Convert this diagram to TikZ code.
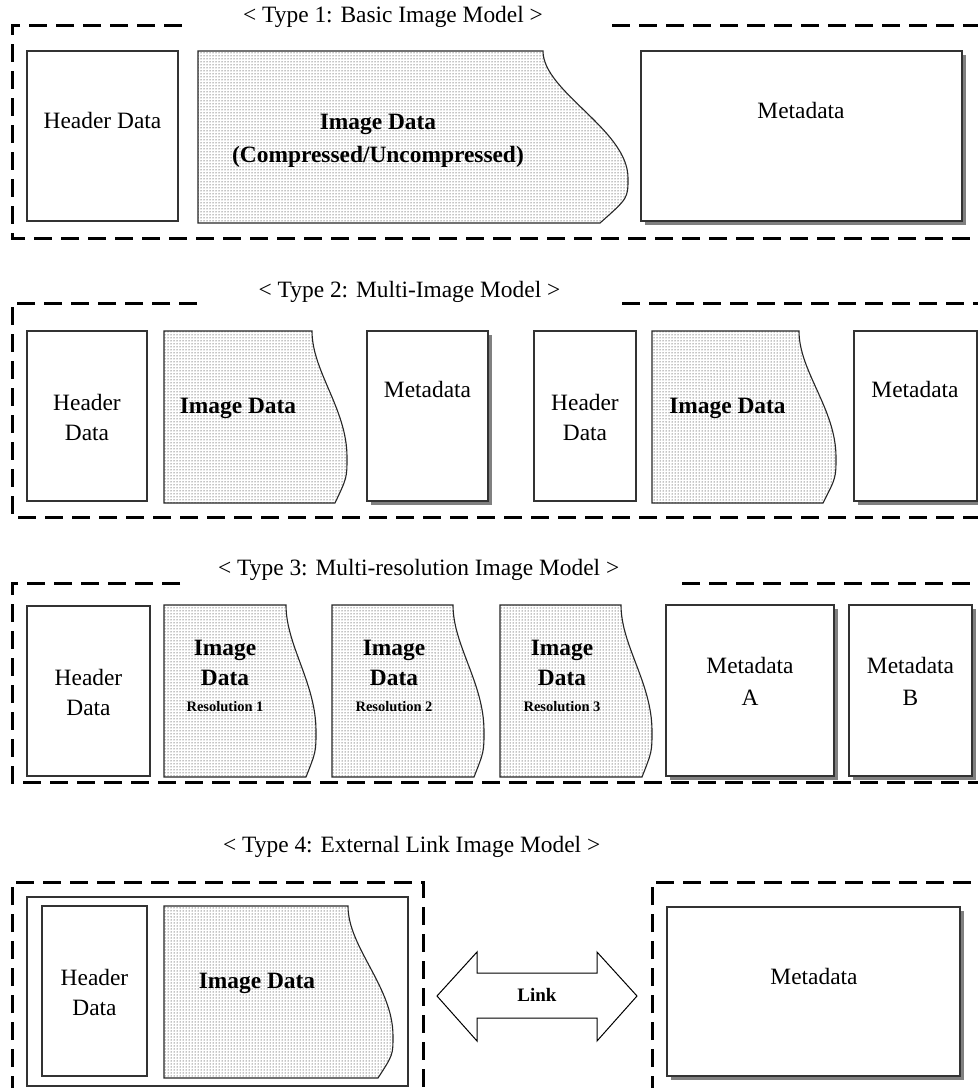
\documentclass[tikz,border=0pt]{standalone}
\usepackage{fontspec}
\setmainfont{Liberation Serif}
\usetikzlibrary{patterns}
\tikzset{
  frame/.style={line width=3pt, dash pattern=on 18pt off 9pt},
  boxline/.style={draw=black!80, line width=1.1pt},
  shadowc/.style={fill=black!50},
  imgline/.style={draw=black!85, line width=1.1pt, pattern=dots, pattern color=black},
  txt/.style={font=\fontsize{23.4}{30}\selectfont, align=center, inner sep=0pt},
  btxt/.style={font=\fontsize{23.4}{30}\selectfont\bfseries, align=center, inner sep=0pt},
  stxt/.style={font=\fontsize{14.5}{17}\selectfont\bfseries, align=center, inner sep=0pt},
  ltxt/.style={font=\fontsize{19}{21}\selectfont\bfseries, align=center, inner sep=0pt},
  arrowshape/.style={draw=black, line width=1pt, fill=white}
}
\newcommand\metabox[4]{%
  \fill[shadowc] (#1+4,#2+4) rectangle (#3+4,#4+4);
  \draw[boxline, fill=white] (#1,#2) rectangle (#3,#4);}
\newcommand\imgdata[7]{% x0,y0,y1,xt,xm,ym,xb
  \draw[imgline] (#1,#2) -- (#4,#2)
    .. controls +(0,{0.32*(#6-#2)}) and +(0,{-0.38*(#6-#2)}) .. (#5,#6)
    .. controls +(0,{0.45*(#3-#6)}) .. (#7,#3) -- (#1,#3) -- cycle;}
\begin{document}
\begin{tikzpicture}[x=1pt,y=-1pt]
\useasboundingbox (0,0) rectangle (978,1088);

% ---------- Type 1 ----------
\draw[frame] (182,25) -- (12,25) -- (12,238) -- (982,238);
\draw[frame] (612,25) -- (982,25);
\node[txt] (t1) at (393,17) {< Type 1: Basic Image Model >};
\draw[boxline] (27,51) rectangle (178,221);
\node[txt] (h1) at (102.5,120) {Header Data};
\imgdata{198}{51}{223}{543}{628}{178}{600}
\node[btxt, font=\fontsize{23.4}{33}\selectfont\bfseries] (i1) at (378,141) {Image Data\\(Compressed/Uncompressed)};
\metabox{641}{51}{962}{221}
\node[txt] (m1) at (801,110) {Metadata};

% ---------- Type 2 ----------
\draw[frame] (197,303) -- (12,303) -- (12,517) -- (982,517);
\draw[frame] (622,303) -- (982,303);
\node[txt] (t2) at (409.5,292) {< Type 2: Multi-Image Model >};
\draw[boxline] (27,331) rectangle (147,501);
\node[txt] (h2a) at (87,417) {Header\\Data};
\imgdata{164}{331}{503}{312}{347}{457}{335}
\node[btxt] (i2a) at (238,408) {Image Data};
\metabox{367}{331}{488}{501}
\node[txt] (m2a) at (427.5,389) {Metadata};
\draw[boxline] (534,331) rectangle (636,501);
\node[txt] (h2b) at (585,417) {Header\\Data};
\imgdata{652}{331}{503}{799}{836}{457}{823}
\node[btxt] (i2b) at (727.5,408) {Image Data};
\metabox{854}{331}{977}{501}
\node[txt] (m2b) at (915,389) {Metadata};

% ---------- Type 3 ----------
\draw[frame] (180,583) -- (12,583) -- (12,782) -- (982,782);
\draw[frame] (682,583) -- (982,583);
\node[txt, anchor=west] (t3) at (218,570) {< Type 3: Multi-resolution Image Model >};
\draw[boxline] (27,606) rectangle (150,776);
\node[txt] (h3) at (88.5,692) {Header\\Data};
\imgdata{164}{605}{777}{286}{316}{731}{306}
\node[btxt] (i3a) at (225,663) {Image\\Data};
\node[stxt] (r3a) at (225,707) {Resolution 1};
\imgdata{332}{605}{777}{453}{484}{731}{474}
\node[btxt] (i3b) at (394,663) {Image\\Data};
\node[stxt] (r3b) at (394,707) {Resolution 2};
\imgdata{500}{605}{777}{621}{652}{731}{642}
\node[btxt] (i3c) at (562,663) {Image\\Data};
\node[stxt] (r3c) at (562,707) {Resolution 3};
\metabox{666}{605}{834}{776}
\node[txt, font=\fontsize{23.4}{32}\selectfont] (m3a) at (750,681) {Metadata\\A};
\metabox{849}{605}{972}{776}
\node[txt, font=\fontsize{23.4}{32}\selectfont] (m3b) at (910.5,681) {Metadata\\B};

% ---------- Type 4 ----------
\node[txt, anchor=west] (t4) at (223,847) {< Type 4: External Link Image Model >};
\draw[frame] (12,1094) -- (12,882) -- (423,882) -- (423,1094);
\draw[boxline] (27,897) rectangle (408,1086);
\draw[boxline] (42,906) rectangle (147,1076);
\node[txt] (h4) at (94.5,992) {Header\\Data};
\imgdata{164}{906}{1078}{348}{393}{1036}{378}
\node[btxt] (i4) at (257,983) {Image Data};
\draw[arrowshape] (437,996) -- (477,952) -- (477,973) -- (597,973) -- (597,952)
  -- (637,996) -- (597,1041) -- (597,1018) -- (477,1018) -- (477,1041) -- cycle;
\node[ltxt] (lk) at (537,995) {Link};
\draw[frame] (652,1094) -- (652,882) -- (982,882);
\metabox{667}{907}{960}{1076}
\node[txt] (m4) at (814,976) {Metadata};
\end{tikzpicture}
\end{document}
